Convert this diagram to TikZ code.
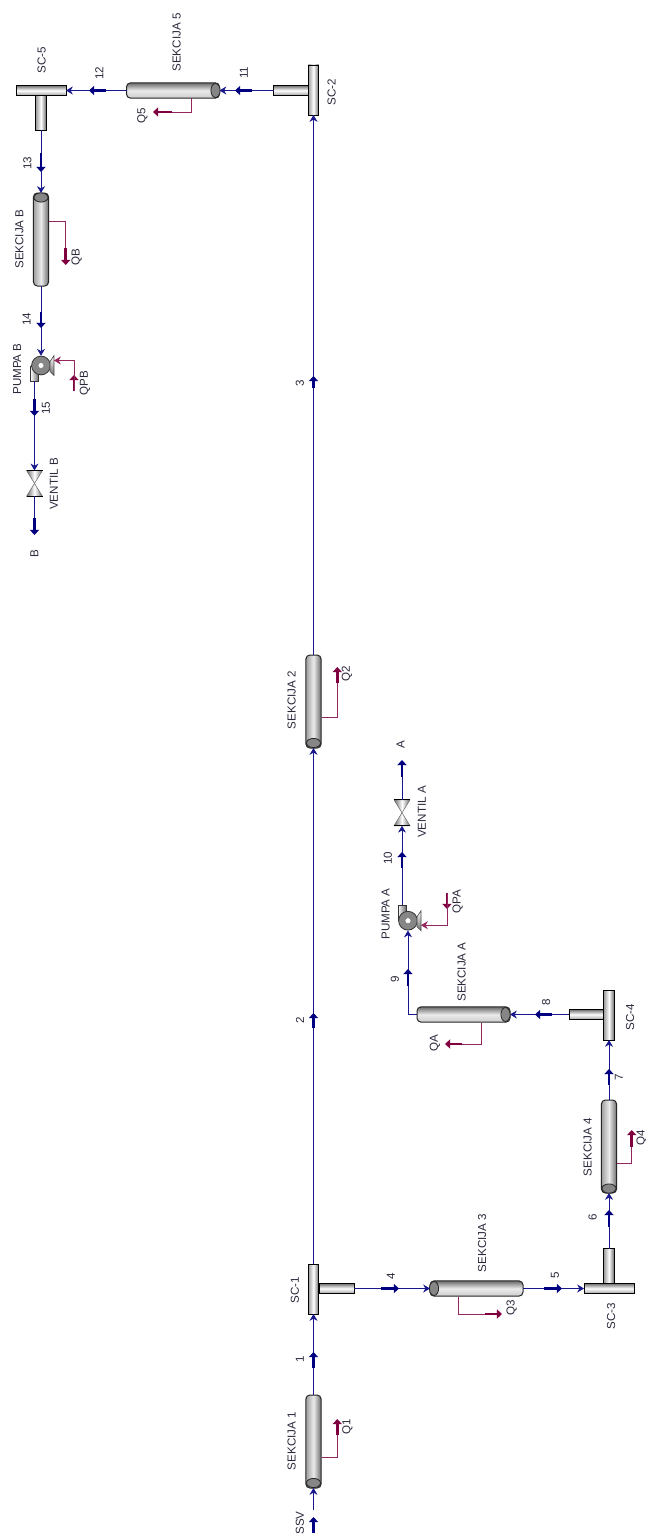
\documentclass[tikz,border=0pt]{standalone}
\usepackage{fontspec}
\setmainfont{Liberation Sans}
\usetikzlibrary{arrows.meta,shapes.geometric,calc}
\definecolor{streamc}{RGB}{24,24,140}
\definecolor{blockc}{RGB}{0,0,128}
\definecolor{heatc}{RGB}{128,0,64}
\definecolor{labc}{RGB}{45,40,60}
\definecolor{dk}{gray}{0.42}
\definecolor{md}{gray}{0.62}
\tikzset{
  lbl/.style={rotate=90,inner sep=0pt,text=labc,font=\fontsize{5.8}{7}\selectfont},
  stream/.style={draw=streamc,line width=0.4pt,-{Stealth[length=3.4pt,width=4pt]}},
  plainstream/.style={draw=streamc,line width=0.4pt},
  heat/.style={draw=heatc!85!white,line width=0.4pt},
  heatarrow/.style={draw=heatc!85!white,line width=0.4pt,-{Stealth[length=3.4pt,width=4pt]}},
  blockflow/.style={draw=blockc,line width=1.45pt,-{Triangle[length=2.6pt,width=4.6pt]}},
  heatflow/.style={draw=heatc,line width=1.45pt,-{Triangle[length=2.6pt,width=4.6pt]}},
  vesv/.style={draw=black!85,line width=0.5pt,rounded corners=2pt,inner sep=0pt,outer sep=0pt,
    minimum width=7.6pt,minimum height=46.5pt,left color=md,right color=dk,middle color=white!92!black},
  vesh/.style={draw=black!85,line width=0.5pt,rounded corners=2pt,inner sep=0pt,outer sep=0pt,
    minimum width=46.5pt,minimum height=7.6pt,top color=dk,bottom color=white!80!black,middle color=white!92!black},
  capv/.style={ellipse,draw=black!85,line width=0.4pt,fill=gray!95,inner sep=0pt,minimum width=7pt,minimum height=4.6pt},
  caph/.style={ellipse,draw=black!85,line width=0.4pt,fill=gray!95,inner sep=0pt,minimum width=4.6pt,minimum height=7pt},
  teev/.style={draw=black,line width=0.45pt,inner sep=0pt,outer sep=0pt,left color=md,right color=dk,middle color=white},
  teeh/.style={draw=black,line width=0.45pt,inner sep=0pt,outer sep=0pt,top color=dk,bottom color=md,middle color=white},
  pumpbody/.style={circle,draw=black!80,line width=0.4pt,fill=gray!95,inner sep=0pt,minimum size=9.4pt},
  pumpeye/.style={circle,draw=black!50,line width=0.3pt,fill=white,inner sep=0pt,minimum size=3pt},
  pumpout/.style={draw=black!80,line width=0.4pt,inner sep=0pt,outer sep=0pt,minimum width=4pt,minimum height=7.5pt,left color=white,right color=dk},
  valvebox/.style={inner sep=0pt,outer sep=0pt,minimum width=8pt,minimum height=13pt},
  valvetri/.style={draw=black!60,line width=0.25pt,left color=dk,right color=dk,middle color=white},
  valvebar/.style={draw=black,line width=0.55pt},
  pumpbase/.style={draw=black!70,line width=0.3pt,top color=white,bottom color=dk}
}
\newcommand{\lab}[4]{\node[lbl] (#1) at (#2,#3) {#4};}
\newcommand{\bflow}[5]{\coordinate (a#1) at (#2,#3);\coordinate (b#1) at (#4,#5);\draw[blockflow] (a#1) -- (b#1);}
\newcommand{\hflow}[5]{\coordinate (a#1) at (#2,#3);\coordinate (b#1) at (#4,#5);\draw[heatflow] (a#1) -- (b#1);}
\newcommand{\valveparts}[1]{%
  \shade[valvetri] (#1.north west) -- (#1.north east) -- (#1.center) -- cycle;
  \shade[valvetri] (#1.south west) -- (#1.south east) -- (#1.center) -- cycle;
  \draw[valvebar] (#1.north west) -- (#1.north east);
  \draw[valvebar] (#1.south west) -- (#1.south east);}
\begin{document}
\begin{tikzpicture}[x=0.5pt,y=-0.5pt]
\useasboundingbox (0,0) rectangle (646,1536);
\fill[white] (0,0) rectangle (646,1536);
% vessels
\node[vesv] (s1) at (313.5,1441.5) {};
\node[capv] (s1c) at (313.5,1483) {};
\node[vesv] (s2) at (313.5,701.5) {};
\node[capv] (s2c) at (313.5,743) {};
\node[vesh] (s3) at (476.5,1288.5) {};
\node[caph] (s3c) at (434,1288.5) {};
\node[vesv] (s4) at (609,1146.5) {};
\node[capv] (s4c) at (609,1188.5) {};
\node[vesh] (s5) at (173,90.5) {};
\node[caph] (s5c) at (215.5,90.5) {};
\node[vesh] (sA) at (463.5,1014.5) {};
\node[caph] (sAc) at (505.5,1014.5) {};
\node[vesv] (sB) at (41,239.5) {};
\node[capv] (sBc) at (41,197.5) {};
% tees
\node[teeh,minimum width=17.5pt,minimum height=5.2pt] (sc1b) at (336.5,1288.5) {};
\node[teev,minimum width=5.2pt,minimum height=25pt] (sc1) at (313.5,1289) {};
\node[teeh,minimum width=17.5pt,minimum height=5.2pt] (sc2b) at (291,90.5) {};
\node[teev,minimum width=5.2pt,minimum height=25pt] (sc2) at (313.5,90) {};
\node[teev,minimum width=5.2pt,minimum height=17.5pt] (sc3b) at (609,1266) {};
\node[teeh,minimum width=25pt,minimum height=5.2pt] (sc3) at (609,1288.5) {};
\node[teeh,minimum width=17.5pt,minimum height=5.2pt] (sc4b) at (586.5,1014.5) {};
\node[teev,minimum width=5.2pt,minimum height=25pt] (sc4) at (609,1015) {};
\node[teev,minimum width=5.2pt,minimum height=17.5pt] (sc5b) at (41,113) {};
\node[teeh,minimum width=25pt,minimum height=5.2pt] (sc5) at (41,90.5) {};
% pumps
\node[pumpout] (pAo) at (402,912.5) {};
\node[pumpbody] (pA) at (408,920.7) {};
\node[pumpeye] (pAe) at (408,920.7) {};
\begin{scope}[shift={(pA.center)}]
  \shade[pumpbase] (9,-4) -- (13,-10) -- (13,10) -- (9,6) -- cycle;
  \coordinate (pAin) at (13,4.5);
\end{scope}
\node[pumpout] (pBo) at (34.5,373.5) {};
\node[pumpbody] (pB) at (41,365.5) {};
\node[pumpeye] (pBe) at (41,365.5) {};
\begin{scope}[shift={(pB.center)}]
  \shade[pumpbase] (9,-4) -- (13,-10) -- (13,10) -- (9,6) -- cycle;
  \coordinate (pBin) at (13,-5);
\end{scope}
% valves
\node[valvebox] (vA) at (402,812.8) {};
\valveparts{vA}
\node[valvebox] (vB) at (34.5,483.4) {};
\valveparts{vB}
% free ends
\coordinate (inSSV) at (313.5,1510);
\coordinate (outA) at (402,777);
\coordinate (outB) at (34.5,518);
% streams
\draw[stream] (inSSV) -- (s1.south);
\draw[stream] (s1.north) -- (sc1.south);
\draw[stream] (sc1.north) -- (s2.south);
\draw[stream] (s2.north) -- (sc2.south);
\draw[stream] (sc1b.east) -- (s3.west);
\draw[stream] (s3.east) -- (sc3.west);
\draw[stream] (sc3b.north) -- (s4.south);
\draw[stream] (s4.north) -- (sc4.south);
\draw[stream] (sc4b.west) -- (sA.east);
\draw[stream] (sA.west) -| (pA.south);
\draw[stream] (pAo.north) -- (vA.south);
\draw[plainstream] (vA.north) -- (outA);
\draw[stream] (sc2b.west) -- (s5.east);
\draw[stream] (s5.west) -- (sc5.east);
\draw[stream] (sc5b.south) -- (sB.north);
\draw[stream] (sB.south) -- (pB.north);
\draw[stream] (pBo.south) -- (vB.north);
\draw[plainstream] (vB.south) -- (outB);
% stream block arrows
\bflow{ssv}{313.5}{1533}{313.5}{1517}
\bflow{f1}{313.5}{1368}{313.5}{1352}
\bflow{f2}{313.5}{1028}{313.5}{1013}
\bflow{f3}{313.5}{388}{313.5}{376}
\bflow{f4}{381}{1288.5}{399}{1288.5}
\bflow{f5}{544}{1288.5}{562}{1288.5}
\bflow{f6}{609}{1227}{609}{1210}
\bflow{f7}{609}{1085}{609}{1069}
\bflow{f8}{552}{1014.5}{535}{1014.5}
\bflow{f9}{408}{986}{408}{969}
\bflow{f10}{402}{868}{402}{852}
\bflow{fA}{402}{777}{402}{760}
\bflow{f11}{252}{90.5}{235}{90.5}
\bflow{f12}{106}{90.5}{89}{90.5}
\bflow{f13}{41}{153}{41}{172}
\bflow{f14}{41}{311.5}{41}{328}
\bflow{f15}{34.5}{399}{34.5}{416}
\bflow{fB}{34.5}{518}{34.5}{535}
% heat streams
\hflow{q1}{337.3}{1435}{337.3}{1419}
\coordinate (q1s) at (321.5,1457.7);
\draw[heat] (q1s) -| (aq1);
\hflow{q2}{337.3}{683}{337.3}{667}
\coordinate (q2s) at (321.5,717.3);
\draw[heat] (q2s) -| (aq2);
\hflow{q3}{485}{1314}{502}{1314}
\coordinate (q3s) at (458.5,1296.5);
\draw[heat] (q3s) |- (aq3);
\hflow{q4}{631.7}{1147}{631.7}{1130}
\coordinate (q4s) at (616.5,1163);
\draw[heat] (q4s) -| (aq4);
\hflow{q5}{172}{112}{153}{112}
\coordinate (q5s) at (191,98.5);
\draw[heat] (q5s) |- (aq5);
\hflow{qa}{462}{1044}{445}{1044}
\coordinate (qas) at (481.3,1022.5);
\draw[heat] (qas) |- (aqa);
\hflow{qb}{65.7}{248}{65.7}{265}
\coordinate (qbs) at (48.5,221.7);
\draw[heat] (qbs) -| (aqb);
\hflow{qpa}{447}{893}{447}{909}
\draw[heatarrow] (aqpa) |- (pAin);
\hflow{qpb}{74}{391}{74}{375}
\draw[heatarrow] (aqpb) |- (pBin);
% labels
\lab{lssv}{300}{1523}{SSV}
\lab{ls1}{291.7}{1441}{SEKCIJA 1}
\lab{lq1}{347.3}{1427}{Q1}
\lab{l1}{300}{1359}{1}
\lab{lsc1}{295}{1290}{SC-1}
\lab{l4}{391}{1276}{4}
\lab{ls3}{482}{1243}{SEKCIJA 3}
\lab{lq3}{511.7}{1308}{Q3}
\lab{l5}{555}{1275}{5}
\lab{lsc3}{611}{1316}{SC-3}
\lab{l6}{592.7}{1217}{6}
\lab{ls4}{587.7}{1147}{SEKCIJA 4}
\lab{lq4}{641.7}{1138}{Q4}
\lab{l7}{619}{1077}{7}
\lab{lsc4}{630}{1017}{SC-4}
\lab{l8}{546}{1002}{8}
\lab{lsA}{461.7}{972}{SEKCIJA A}
\lab{lqa}{435}{1043}{QA}
\lab{l9}{395}{979}{9}
\lab{lpA}{385.7}{914}{PUMPA A}
\lab{lqpa}{457.7}{902}{QPA}
\lab{l10}{388}{858}{10}
\lab{lvA}{422}{812}{VENTIL A}
\lab{lA}{400.7}{745}{A}
\lab{l2}{300}{1020}{2}
\lab{ls2}{291.7}{700}{SEKCIJA 2}
\lab{lq2}{347}{674}{Q2}
\lab{l3}{300}{383}{3}
\lab{lsc2}{331.7}{92}{SC-2}
\lab{l11}{244}{72.7}{11}
\lab{ls5}{176.7}{42.5}{SEKCIJA 5}
\lab{lq5}{142.3}{115.7}{Q5}
\lab{l12}{99.3}{73}{12}
\lab{lsc5}{41.7}{60}{SC-5}
\lab{l13}{27.3}{163}{13}
\lab{lsB}{19.3}{239}{SEKCIJA B}
\lab{lqb}{76.7}{256.7}{QB}
\lab{l14}{26.7}{319}{14}
\lab{lpB}{17.3}{369}{PUMPA B}
\lab{lqpb}{85}{383}{QPB}
\lab{l15}{46}{408}{15}
\lab{lvB}{54}{484}{VENTIL B}
\lab{lB}{34.3}{554}{B}
\end{tikzpicture}
\end{document}
